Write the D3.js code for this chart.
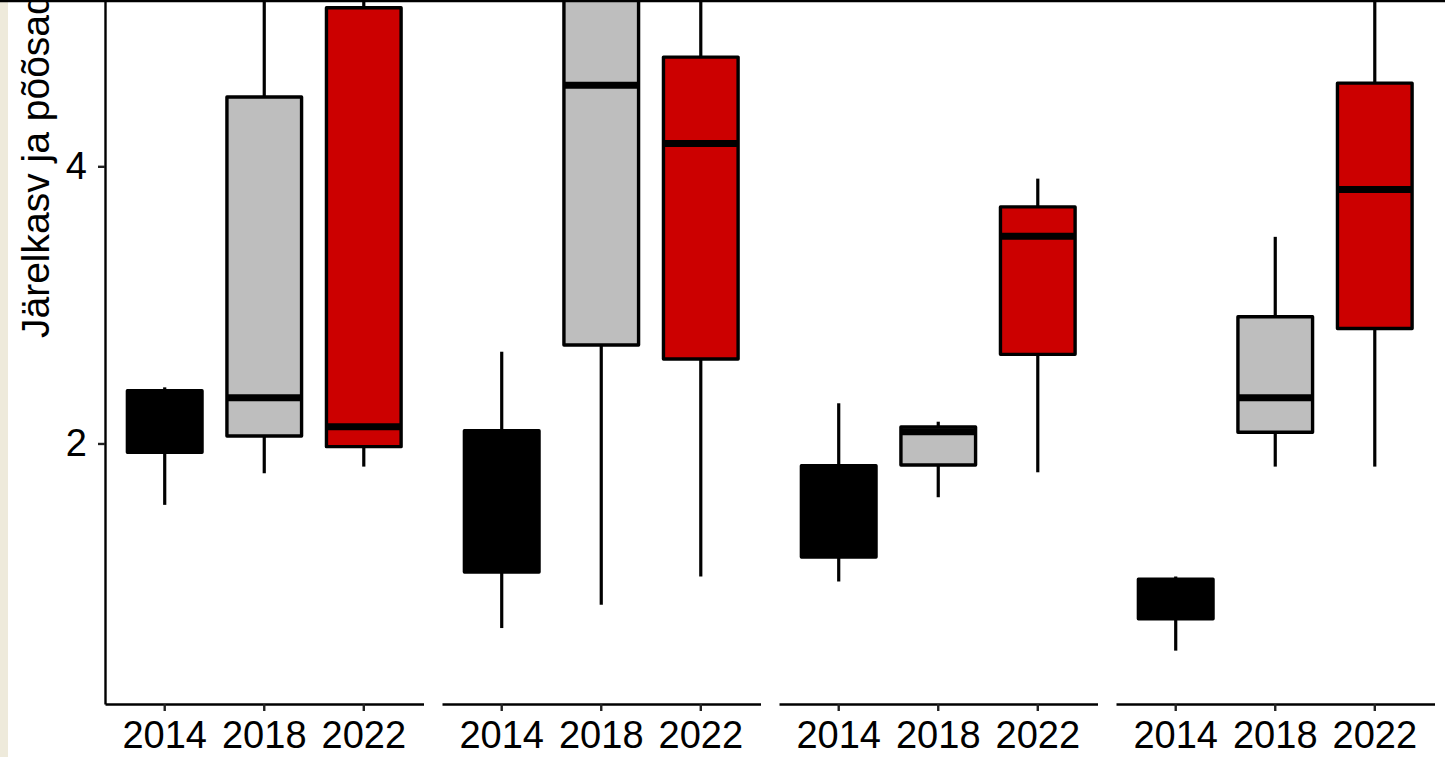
<!DOCTYPE html>
<html>
<head>
<meta charset="utf-8">
<script src="https://cdn.jsdelivr.net/npm/d3@7"></script>
<style>
  html, body { margin: 0; padding: 0; background: #ffffff; overflow: hidden; }
  svg { display: block; }
  text { font-family: "Liberation Sans", Arial, sans-serif; }
</style>
</head>
<body>
<svg id="chart" width="1445" height="757"></svg>
<script>
// ---- data ----
const years = ["2014", "2018", "2022"];
const facets = ["1", "2", "3", "4"];
const yTicks = [2, 4];
const yTitle = "Järelkasv ja põõsad";
const fills = ["#000000", "#BEBEBE", "#CC0000"];

// per facet, per year
const whiskerLow  = [[1.557, 1.785, 1.833], [0.668, 0.836, 1.040], [1.004, 1.612, 1.792], [0.505, 1.833, 1.833]];
const q1          = [[1.937, 2.054, 1.977], [1.072, 2.710, 2.609], [1.180, 1.845, 2.643], [0.735, 2.081, 2.830]];
const median      = [[2.200, 2.330, 2.121], [1.600, 4.584, 4.164], [1.500, 2.085, 3.496], [0.900, 2.330, 3.832]];
const q3          = [[2.381, 4.500, 5.144], [2.092, 5.500, 4.788], [1.840, 2.119, 3.707], [1.021, 2.914, 4.600]];
const whiskerHigh = [[2.405, 5.600, 5.400], [2.662, 6.500, 5.600], [2.290, 2.157, 3.911], [1.040, 3.491, 5.500]];

// ---- layout ----
const W = 1445, H = 757;
const axisY = 704;
const panelLeft0 = 105, panelStep = 337, panelW = 318.5;
const fontSize = 38;

const svg = d3.select("#chart");

// beige strip on the left edge
svg.append("rect").attr("x", 0).attr("y", 0).attr("width", 8).attr("height", H).attr("fill", "#EEEADB");

const y = d3.scaleLinear().domain([0.12, 5.2]).range([axisY, 0]);

// y axis
const yAxis = svg.append("g")
  .attr("transform", `translate(${panelLeft0},0)`)
  .call(d3.axisLeft(y).tickValues(yTicks).tickSize(7).tickSizeOuter(0).tickPadding(11).tickFormat(d3.format("d")));
yAxis.attr("font-family", null);
yAxis.select(".domain").attr("stroke", "#000").attr("stroke-width", 2.4);
yAxis.selectAll(".tick line").attr("stroke", "#222").attr("stroke-width", 2.4);
yAxis.selectAll(".tick text").attr("font-size", fontSize).attr("fill", "#000")
  .attr("font-family", "Liberation Sans, Arial, sans-serif");

// y title (clipped at top)
svg.append("text")
  .attr("transform", "translate(49,338) rotate(-90)")
  .attr("text-anchor", "start")
  .attr("font-size", 39)
  .attr("fill", "#000")
  .text(yTitle);

facets.forEach((f, fi) => {
  const left = panelLeft0 + fi * panelStep;
  const x = d3.scaleBand().domain(years).range([0, panelW]).paddingInner(0).paddingOuter(0.1);
  const g = svg.append("g").attr("transform", `translate(${left},0)`);

  const boxW = x.bandwidth() * 0.75;

  years.forEach((yr, yi) => {
    const cx = x(yr) + x.bandwidth() / 2;
    // whiskers
    g.append("line")
      .attr("x1", cx).attr("x2", cx)
      .attr("y1", y(q3[fi][yi])).attr("y2", y(whiskerHigh[fi][yi]))
      .attr("stroke", "#000").attr("stroke-width", 3.2);
    g.append("line")
      .attr("x1", cx).attr("x2", cx)
      .attr("y1", y(q1[fi][yi])).attr("y2", y(whiskerLow[fi][yi]))
      .attr("stroke", "#000").attr("stroke-width", 3.2);
    // box
    g.append("rect")
      .attr("x", cx - boxW / 2)
      .attr("width", boxW)
      .attr("y", y(q3[fi][yi]))
      .attr("height", y(q1[fi][yi]) - y(q3[fi][yi]))
      .attr("fill", fills[yi])
      .attr("stroke", "#000").attr("stroke-width", 3.4)
      .attr("stroke-linejoin", "round");
    // median
    g.append("line")
      .attr("x1", cx - boxW / 2).attr("x2", cx + boxW / 2)
      .attr("y1", y(median[fi][yi])).attr("y2", y(median[fi][yi]))
      .attr("stroke", "#000").attr("stroke-width", 7);
  });

  const xAxis = g.append("g")
    .attr("transform", `translate(0,${axisY})`)
    .call(d3.axisBottom(x).tickSize(7).tickSizeOuter(0).tickPadding(10));
  xAxis.attr("font-family", null);
  xAxis.select(".domain").attr("stroke", "#000").attr("stroke-width", 2.4);
  xAxis.selectAll(".tick line").attr("stroke", "#222").attr("stroke-width", 2.4);
  xAxis.selectAll(".tick text").attr("font-size", fontSize).attr("fill", "#000")
    .attr("font-family", "Liberation Sans, Arial, sans-serif");
});

// top border line
svg.append("line").attr("x1", 0).attr("x2", W).attr("y1", 1).attr("y2", 1)
  .attr("stroke", "#000").attr("stroke-width", 2.5);
</script>
</body>
</html>
